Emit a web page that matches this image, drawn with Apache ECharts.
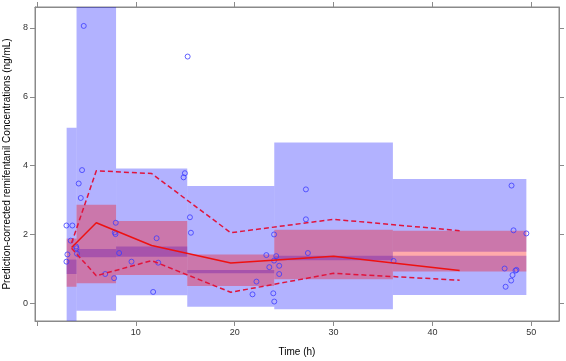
<!DOCTYPE html>
<html><head><meta charset="utf-8">
<script src="https://cdn.jsdelivr.net/npm/echarts@6/dist/echarts.min.js"></script>
<style>html,body{margin:0;padding:0;background:#fff}#c{width:566px;height:361px}</style>
</head><body><div id="c"></div>
<script>
// Bins (h)
const binLo = [3, 4, 8, 15.2, 24, 36];
const binHi = [4, 8, 15.2, 24, 36, 49.5];
// Prediction intervals (ng/mL)
const pi05Lo = [-1.0, -0.22, 0.23, -0.10, -0.17, 0.24];
const pi05Hi = [1.27, 1.58, 1.65, 0.97, 1.38, 1.38];
const pi95Lo = [0.85, 1.34, 1.35, 0.87, 1.25, 1.50];
const pi95Hi = [5.10, 9.50, 3.92, 3.41, 4.67, 3.61];
const pi50Lo = [0.48, 0.58, 0.82, 0.50, 0.70, 0.92];
const pi50Hi = [1.88, 2.86, 2.39, 1.42, 2.14, 2.11];
// Observed percentiles at bin midpoints
const binMid = [3.5, 6, 11.6, 19.6, 30, 42.75];
const obsMedian = [1.62, 2.34, 1.68, 1.17, 1.37, 0.95];
const obsP95 = [1.75, 3.85, 3.77, 2.05, 2.44, 2.11];
const obsP05 = [1.60, 0.80, 1.24, 0.32, 0.87, 0.67];
// Observed data
const obsTime = [4.73, 15.24, 4.56, 4.22, 4.43, 2.98, 3.58, 7.97, 7.87, 7.94, 12.1, 3.41, 3.95, 3.99, 4.05, 3.08, 8.31, 2.98, 9.56, 12.26, 6.9, 7.8, 11.75, 14.96, 14.83, 15.47, 15.57, 23.98, 23.2, 24.2, 23.98, 24.5, 23.5, 24.5, 22.2, 21.8, 23.9, 24.0, 27.2, 27.2, 27.4, 48.0, 48.2, 49.5, 47.3, 48.4, 48.5, 48.1, 47.96, 47.4, 36.07];
const obsConc = [8.06, 7.17, 3.87, 3.48, 3.06, 2.26, 2.26, 2.34, 2.06, 2.01, 1.89, 1.82, 1.65, 1.60, 1.44, 1.42, 1.46, 1.21, 1.21, 1.18, 0.85, 0.73, 0.33, 3.78, 3.66, 2.50, 2.05, 2.00, 1.40, 1.37, 1.24, 1.09, 1.05, 0.85, 0.63, 0.26, 0.29, 0.05, 3.31, 2.44, 1.46, 3.42, 2.12, 2.03, 1.01, 0.95, 0.97, 0.82, 0.66, 0.48, 1.23];
const xTicks = [0, 10, 20, 30, 40, 50];
const xLabels = [10, 20, 30, 40, 50];
const yTicks = [0, 2, 4, 6, 8];

const chart = echarts.init(document.getElementById('c'), null, {renderer: 'canvas'});
function rects(ylo, yhi) { return binLo.map((v, i) => [v, binHi[i], ylo[i], yhi[i]]); }
function rectSeries(data, color) {
  return {
    type: 'custom', data: data, silent: true, z: 1,
    encode: {x: [0, 1], y: [2, 3]},
    renderItem: function (params, api) {
      const p0 = api.coord([api.value(0), api.value(3)]);
      const p1 = api.coord([api.value(1), api.value(2)]);
      const cs = params.coordSys;
      const r = echarts.graphic.clipRectByRect(
        {x: p0[0], y: p0[1], width: p1[0] - p0[0], height: p1[1] - p0[1]},
        {x: cs.x, y: cs.y, width: cs.width, height: cs.height});
      return r ? {type: 'rect', shape: r, style: {fill: color}} : null;
    }
  };
}
const axisCol = '#8a8a8a';
const xMin = -0.2, xMax = 52.8, yMin = -0.515, yMax = 8.61;
const option = {
  animation: false,
  backgroundColor: '#fff',
  grid: {left: 35, right: 7, top: 7, bottom: 40, outerBoundsMode: 'none', containLabel: false,
         show: true, borderColor: axisCol, borderWidth: 1, backgroundColor: 'transparent'},
  xAxis: [
    {type: 'value', position: 'bottom', min: xMin, max: xMax,
     axisLine: {show: true, onZero: false, lineStyle: {color: axisCol}},
     axisTick: {show: true, inside: false, length: 5, customValues: xTicks, lineStyle: {color: axisCol}},
     axisLabel: {customValues: xLabels, fontSize: 9, color: '#333', margin: 7, fontFamily: 'Liberation Sans'},
     splitLine: {show: false},
     name: 'Time (h)', nameLocation: 'middle', nameGap: 26,
     nameTextStyle: {fontSize: 10, color: '#000', fontFamily: 'Liberation Sans'}},
    {type: 'value', position: 'top', min: xMin, max: xMax,
     axisLine: {show: true, onZero: false, lineStyle: {color: axisCol}},
     axisTick: {show: true, inside: false, length: 5, customValues: xTicks, lineStyle: {color: axisCol}},
     axisLabel: {show: false}, splitLine: {show: false}}
  ],
  yAxis: [
    {type: 'value', position: 'left', min: yMin, max: yMax,
     axisLine: {show: true, onZero: false, lineStyle: {color: axisCol}},
     axisTick: {show: true, inside: false, length: 5, customValues: yTicks, lineStyle: {color: axisCol}},
     axisLabel: {customValues: yTicks, fontSize: 9, color: '#333', margin: 7, fontFamily: 'Liberation Sans'},
     splitLine: {show: false},
     name: 'Prediction-corrected remifentanil Concentrations (ng/mL)', nameLocation: 'middle', nameGap: 22,
     nameTextStyle: {fontSize: 10, color: '#000', fontFamily: 'Liberation Sans'}},
    {type: 'value', position: 'right', min: yMin, max: yMax,
     axisLine: {show: true, onZero: false, lineStyle: {color: axisCol}},
     axisTick: {show: true, inside: false, length: 5, customValues: yTicks, lineStyle: {color: axisCol}},
     axisLabel: {show: false}, splitLine: {show: false}}
  ],
  series: [
    rectSeries(rects(pi05Lo, pi05Hi), 'rgba(0,0,255,0.3)'),
    rectSeries(rects(pi95Lo, pi95Hi), 'rgba(0,0,255,0.3)'),
    rectSeries(rects(pi50Lo, pi50Hi), 'rgba(255,0,0,0.33)'),
    {type: 'scatter', data: obsTime.map((t, i) => [t, obsConc[i]]), symbol: 'circle', symbolSize: 5, z: 5,
     itemStyle: {color: 'rgba(0,0,0,0)', borderColor: '#3c3cff', borderWidth: 1}},
    {type: 'line', data: binMid.map((t, i) => [t, obsMedian[i]]), symbol: 'none', z: 6,
     lineStyle: {color: '#ee1111', width: 1.5}},
    {type: 'line', data: binMid.map((t, i) => [t, obsP95[i]]), symbol: 'none', z: 6,
     lineStyle: {color: '#e0143c', width: 1.5, type: [5, 3]}},
    {type: 'line', data: binMid.map((t, i) => [t, obsP05[i]]), symbol: 'none', z: 6,
     lineStyle: {color: '#e0143c', width: 1.5, type: [5, 3]}}
  ]
};
chart.setOption(option);
</script></body></html>
